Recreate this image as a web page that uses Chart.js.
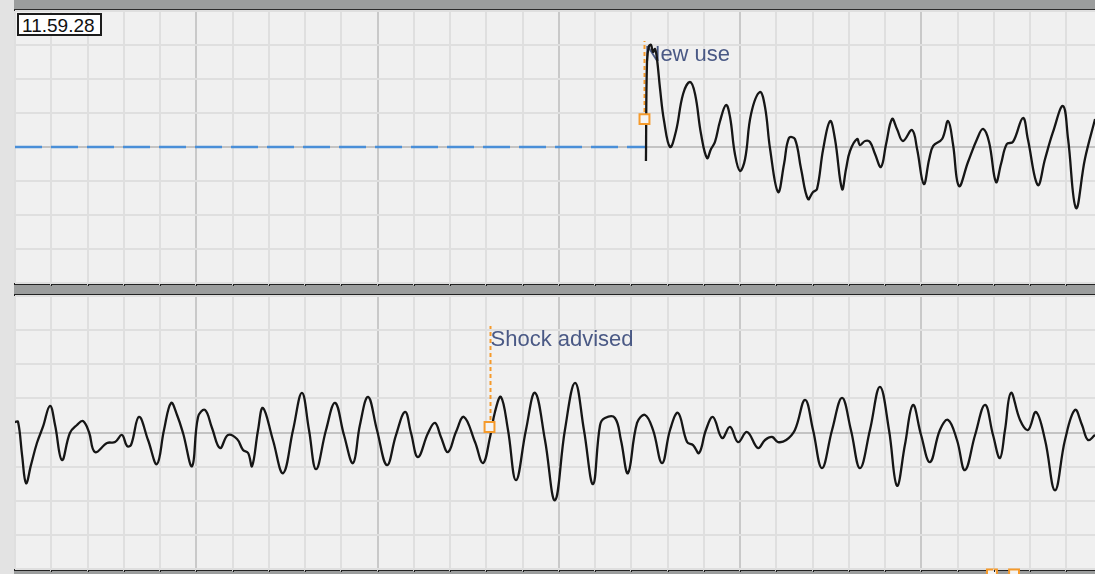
<!DOCTYPE html>
<html>
<head>
<meta charset="utf-8">
<script src="https://cdn.jsdelivr.net/npm/chart.js@4.4.1/dist/chart.umd.min.js"></script>
<style>
  html, body { margin: 0; padding: 0; }
  body {
    width: 1095px; height: 574px; overflow: hidden; position: relative;
    background: #e3e3e3; font-family: "Liberation Sans", Arial, sans-serif;
  }
  .bar { position: absolute; left: 14px; right: 0; background: #9b9d9d; box-sizing: border-box; }
  .panel { position: absolute; left: 15px; right: 0; background: #f0f0f0; }
  canvas { position: absolute; left: 0; top: 0; }
  #stamp {
    position: absolute; left: 17px; top: 13px; width: 78px; height: 18px;
    padding: 1px 0 0 3px; border: 2px solid #1c1c1c; background: #ffffff;
    font-size: 19px; line-height: 19px; color: #111; z-index: 5;
  }
</style>
</head>
<body>
<div class="bar" style="top:0;height:11px;border-bottom:2px solid #2b2b2b"></div>
<div class="panel" style="top:11px;height:272px"></div>
<div class="bar" style="top:283px;height:13px;border-top:2px solid #222;border-bottom:2px solid #222"></div>
<div class="panel" style="top:296px;height:273px"></div>
<div class="bar" style="top:569px;height:5px;border-top:2px solid #222"></div>
<canvas id="upper" width="1095" height="574"></canvas>
<canvas id="lower" width="1095" height="574"></canvas>
<div id="stamp">11.59.28</div>
<script>
// ---- Upper lead: no signal until the pads are applied, then VF (time in s, amplitude in mV)
const upperTimes = [3.481, 3.487, 3.498, 3.509, 3.520, 3.531, 3.542, 3.559, 3.581, 3.614,
  3.647, 3.686, 3.724, 3.752, 3.785, 3.818, 3.840, 3.862, 3.890, 3.923,
  3.945, 3.972, 4.000, 4.028, 4.061, 4.110, 4.138, 4.166, 4.210, 4.243,
  4.270, 4.303, 4.337, 4.375, 4.403, 4.425, 4.459, 4.497, 4.524, 4.563,
  4.585, 4.607, 4.646, 4.662, 4.690, 4.717, 4.745, 4.778, 4.806, 4.839,
  4.866, 4.899, 4.949, 4.977, 5.014, 5.044, 5.066, 5.115, 5.148, 5.175,
  5.208, 5.258, 5.308, 5.341, 5.374, 5.412, 5.440, 5.472, 5.506, 5.561,
  5.588, 5.643, 5.683, 5.727, 5.782, 5.810, 5.854, 5.903, 5.959];
const upperValues = [-0.206, 1.265, 1.485, 1.500, 1.397, 1.441, 1.294, 0.853, 0.382, 0.000,
  0.235, 0.779, 0.956, 0.779, 0.191, -0.162, -0.029, 0.074, 0.382, 0.618,
  0.441, -0.103, -0.353, -0.176, 0.485, 0.809, 0.588, -0.029, -0.662, -0.250,
  0.132, 0.118, -0.324, -0.765, -0.662, -0.618, -0.029, 0.382, 0.118, -0.618,
  -0.324, -0.059, 0.118, 0.029, 0.088, 0.074, -0.103, -0.294, 0.044, 0.412,
  0.265, 0.088, 0.250, -0.029, -0.544, -0.176, 0.015, 0.118, 0.382, 0.044,
  -0.574, -0.221, 0.118, 0.265, 0.074, -0.515, -0.250, 0.044, 0.074, 0.426,
  0.118, -0.559, -0.176, 0.221, 0.603, 0.118, -0.897, -0.176, 0.412];

// ---- Lower lead: continuous VF
const lowerTimes = [0.000, 0.017, 0.039, 0.061, 0.088, 0.121, 0.154, 0.193, 0.221, 0.259,
  0.303, 0.342, 0.375, 0.408, 0.441, 0.508, 0.552, 0.590, 0.618, 0.640,
  0.684, 0.734, 0.783, 0.822, 0.861, 0.894, 0.927, 0.977, 1.010, 1.048,
  1.087, 1.131, 1.175, 1.225, 1.258, 1.286, 1.308, 1.341, 1.368, 1.423,
  1.479, 1.534, 1.583, 1.622, 1.661, 1.716, 1.766, 1.815, 1.865, 1.903,
  1.948, 1.997, 2.052, 2.102, 2.152, 2.185, 2.223, 2.279, 2.317, 2.350,
  2.389, 2.433, 2.477, 2.538, 2.582, 2.621, 2.648, 2.681, 2.720, 2.764,
  2.819, 2.869, 2.924, 2.979, 3.034, 3.090, 3.139, 3.189, 3.228, 3.255,
  3.310, 3.343, 3.382, 3.432, 3.476, 3.520, 3.570, 3.614, 3.658, 3.708,
  3.741, 3.774, 3.812, 3.851, 3.901, 3.945, 3.989, 4.039, 4.099, 4.138,
  4.177, 4.210, 4.255, 4.303, 4.359, 4.403, 4.452, 4.508, 4.563, 4.612,
  4.662, 4.717, 4.772, 4.822, 4.866, 4.910, 4.954, 4.999, 5.048, 5.103,
  5.148, 5.197, 5.241, 5.297, 5.352, 5.396, 5.434, 5.462, 5.495, 5.545,
  5.589, 5.633, 5.683, 5.738, 5.793, 5.848, 5.887, 5.920, 5.959];
const lowerValues = [0.154, 0.154, -0.331, -0.743, -0.478, -0.154, 0.081, 0.390, 0.110, -0.404,
  -0.007, 0.110, 0.169, 0.007, -0.287, -0.154, -0.140, -0.037, -0.199, -0.184,
  0.228, -0.110, -0.463, 0.037, 0.434, 0.257, -0.007, -0.493, 0.228, 0.331,
  0.066, -0.228, -0.037, -0.096, -0.257, -0.301, -0.493, 0.037, 0.360, -0.110,
  -0.596, 0.037, 0.581, 0.037, -0.537, 0.037, 0.434, -0.037, -0.449, 0.110,
  0.522, 0.037, -0.478, -0.037, 0.301, -0.007, -0.360, -0.007, 0.140, -0.066,
  -0.287, 0.007, 0.228, -0.140, -0.449, -0.066, 0.301, 0.522, 0.037, -0.699,
  0.037, 0.581, -0.110, -0.993, 0.037, 0.728, 0.037, -0.757, 0.110, 0.213,
  0.213, -0.110, -0.596, 0.140, 0.257, 0.037, -0.449, 0.037, 0.287, -0.140,
  -0.184, -0.301, 0.037, 0.228, -0.081, 0.081, -0.140, 0.007, -0.228, -0.110,
  -0.066, -0.140, -0.110, 0.037, 0.478, 0.037, -0.522, 0.037, 0.507, 0.037,
  -0.522, 0.037, 0.669, 0.037, -0.780, -0.180, 0.404, -0.037, -0.434, 0.037,
  0.184, -0.110, -0.551, -0.037, 0.404, -0.037, -0.375, 0.037, 0.581, 0.184,
  0.037, 0.301, -0.110, -0.846, -0.110, 0.331, 0.110, -0.110, -0.037];

// ---- Event annotations
const upperEventTimes = [3.473];
const upperEventLevels = [0.41];
const upperEventLabels = ["New use"];
const lowerEventTimes = [2.618];
const lowerEventLevels = [0.08];
const lowerEventLabels = ["Shock advised"];
// markers of later events, sitting on the lower edge of the strip
const lowerEdgeEventTimes = [5.390, 5.512];
const lowerEdgeEventLevels = [-2.08, -2.08];

// ---- Strip geometry: 0.2 s minor boxes, 1 s major boxes, 0.5 mV per box
const TIME_SPAN = 5.9586;
const MINOR_STEP = 0.2;
const MV_MIN = -2, MV_MAX = 2, MV_STEP = 0.5;

const ORANGE = '#f59a2b';
const gridTimes = [];
for (let t = 0; t < TIME_SPAN; t += MINOR_STEP) gridTimes.push(+t.toFixed(2));
const gridLevels = [];
for (let v = MV_MIN; v <= MV_MAX + 1e-9; v += MV_STEP) gridLevels.push(+v.toFixed(2));

const pts = (xs, ys) => xs.map((x, i) => ({ x, y: ys[i] }));

function eventPlugin(times, labels, levels) {
  return {
    id: 'eventLines',
    beforeDatasetsDraw(chart) {
      const { ctx, scales: { x, y } } = chart;
      times.forEach((t, i) => {
        const px = Math.round(x.getPixelForValue(t)) + 0.5;
        const yBase = y.getPixelForValue(levels[i]);
        const yTop = y.getPixelForValue(1.56);
        ctx.save();
        ctx.strokeStyle = ORANGE;
        ctx.lineWidth = 2;
        ctx.setLineDash([4, 3]);
        ctx.beginPath();
        ctx.moveTo(px, yBase);
        ctx.lineTo(px, yTop);
        ctx.stroke();
        ctx.setLineDash([]);
        ctx.font = '22px "Liberation Sans", Arial, sans-serif';
        ctx.fillStyle = '#4a5985';
        ctx.textAlign = 'left';
        ctx.textBaseline = 'alphabetic';
        ctx.fillText(labels[i], px, yTop + 20);
        ctx.restore();
      });
    }
  };
}

// small tick notches on the frame line under the strip, one per minor time box
const frameTicks = {
  id: 'frameTicks',
  afterDraw(chart) {
    const { ctx, chartArea, scales: { x } } = chart;
    ctx.save();
    x.ticks.forEach(tk => {
      if (tk.value <= 0) return;
      const px = Math.round(x.getPixelForValue(tk.value));
      ctx.fillStyle = '#d6d6d6';
      ctx.fillRect(px - 1, chartArea.bottom, 1, 2);
      ctx.fillStyle = '#1e1e1e';
      ctx.fillRect(px, chartArea.bottom + 1, 1, 2);
    });
    ctx.restore();
  }
};

function stripOptions(padding) {
  return {
    responsive: false,
    animation: false,
    devicePixelRatio: 1,
    events: [],
    layout: { padding, autoPadding: false },
    plugins: { legend: { display: false }, tooltip: { enabled: false } },
    scales: {
      x: {
        type: 'linear', min: 0, max: TIME_SPAN,
        afterBuildTicks: s => { s.ticks = gridTimes.map(value => ({ value })); },
        ticks: { display: false },
        border: { display: false },
        grid: {
          drawTicks: false, lineWidth: 2,
          color: c => {
            const v = c.tick ? c.tick.value : 0;
            return (v > 0 && Math.abs(v - Math.round(v)) < 1e-6) ? '#c9c9c9' : '#dfdfdf';
          }
        }
      },
      y: {
        type: 'linear', min: MV_MIN, max: MV_MAX,
        afterBuildTicks: s => { s.ticks = gridLevels.map(value => ({ value })); },
        ticks: { display: false },
        border: { display: false },
        grid: {
          drawTicks: false, lineWidth: 2,
          color: c => (c.tick && c.tick.value === 0) ? '#c3c3c3' : '#dfdfdf'
        }
      }
    }
  };
}

const markerStyle = {
  type: 'scatter', showLine: false, pointStyle: 'rect', pointRadius: 7,
  pointBorderWidth: 2, pointBorderColor: ORANGE, pointBackgroundColor: '#f4f4f4'
};

const traceStyle = {
  borderColor: '#161616', borderWidth: 2.3, pointRadius: 0,
  tension: 0.4, fill: false
};

new Chart(document.getElementById('upper'), {
  type: 'line',
  data: {
    datasets: [
      Object.assign({ data: pts(upperEventTimes, upperEventLevels), order: 0 }, markerStyle),
      Object.assign({ data: pts(upperTimes, upperValues), order: 1 }, traceStyle),
      {
        // flat "no signal" line before the trace starts
        data: [{ x: 0, y: 0 }, { x: upperTimes[0], y: 0 }], order: 2,
        borderColor: '#4a8fd8', borderWidth: 2.5, borderDash: [27, 9],
        pointRadius: 0, fill: false
      }
    ]
  },
  options: stripOptions({ left: 15, right: 0, top: 11, bottom: 291 }),
  plugins: [eventPlugin(upperEventTimes, upperEventLabels, upperEventLevels), frameTicks]
});

new Chart(document.getElementById('lower'), {
  type: 'line',
  data: {
    datasets: [
      Object.assign({ data: pts(lowerEventTimes, lowerEventLevels), order: 0 }, markerStyle),
      Object.assign({ data: pts(lowerEdgeEventTimes, lowerEdgeEventLevels), order: 0, clip: false }, markerStyle),
      Object.assign({ data: pts(lowerTimes, lowerValues), order: 1 }, traceStyle)
    ]
  },
  options: stripOptions({ left: 15, right: 0, top: 296, bottom: 5 }),
  plugins: [eventPlugin(lowerEventTimes, lowerEventLabels, lowerEventLevels), frameTicks]
});
</script>
</body>
</html>
